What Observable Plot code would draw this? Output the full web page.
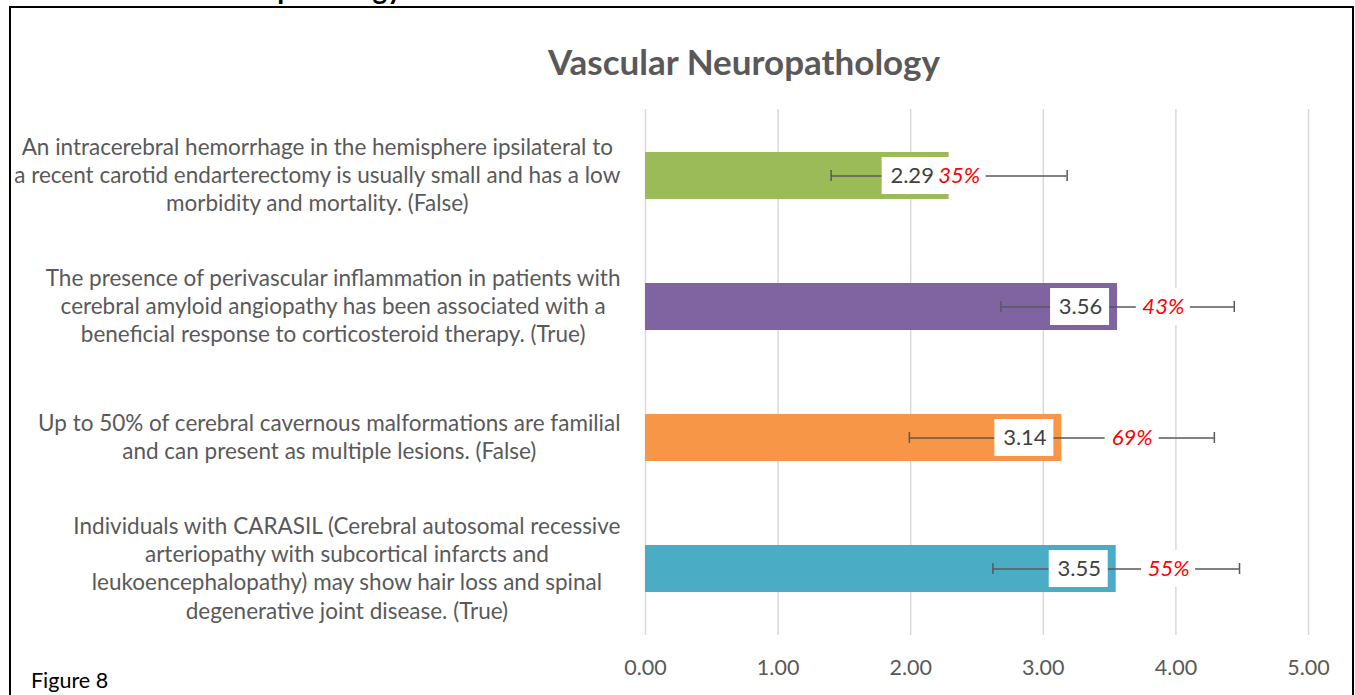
<!DOCTYPE html>
<html>
<head>
<meta charset="utf-8">
<script src="https://cdn.jsdelivr.net/npm/d3@7"></script>
<script src="https://cdn.jsdelivr.net/npm/@observablehq/plot@0.6"></script>
<style>
  body { margin: 0; background: #fff; }
  #wrap { position: relative; width: 1355px; height: 695px; overflow: hidden; font-family: Lato, "Open Sans", sans-serif; }
  #clipped { position: absolute; right: 953px; top: -26px; font: bold 28px/28px Lato, sans-serif; color: #000; white-space: nowrap; }
  #frame { position: absolute; left: 9px; top: 6px; width: 1345px; height: 760px; border: 2px solid #000; box-sizing: border-box; }
  #title { position: absolute; left: 744px; top: 44px; transform: translateX(-50%); font: bold 35px/35px Lato, sans-serif; color: #595959; white-space: nowrap; }
  #chart { position: absolute; left: 0; top: 0; }
  #fig { position: absolute; left: 31px; top: 670px; font: 21.5px/21.5px Lato, sans-serif; color: #000; white-space: nowrap; }
</style>
</head>
<body>
<div id="wrap">
  <div id="clipped">Vascular Neuropathology</div>
  <div id="frame"></div>
  <div id="chart"></div>
  <div id="title">Vascular Neuropathology</div>
  <div id="fig">Figure 8</div>
</div>
<script>
const categories = [
  "An intracerebral hemorrhage in the hemisphere ipsilateral to\na recent carotid endarterectomy is usually small and has a low\nmorbidity and mortality. (False)",
  "The presence of perivascular inflammation in patients with\ncerebral amyloid angiopathy has been associated with a\nbeneficial response to corticosteroid therapy. (True)",
  "Up to 50% of cerebral cavernous malformations are familial\nand can present as multiple lesions. (False)",
  "Individuals with CARASIL (Cerebral autosomal recessive\narteriopathy with subcortical infarcts and\nleukoencephalopathy) may show hair loss and spinal\ndegenerative joint disease. (True)"
];
const means = [2.29, 3.56, 3.14, 3.55];
const sds = [0.89, 0.88, 1.15, 0.93];
const percents = ["35%", "43%", "69%", "55%"];
const percentLabelAt = [2.365, 3.905, 3.67, 3.945];
const colors = ["#9BBB59", "#8064A2", "#F79646", "#4BACC6"];
const xTicks = [0, 1, 2, 3, 4, 5];

const rows = categories.map((cat, i) => ({
  cat, mean: means[i], sd: sds[i], pct: percents[i], pctAt: percentLabelAt[i], color: colors[i]
}));

const chart = Plot.plot({
  width: 1355,
  height: 695,
  marginLeft: 645,
  marginRight: 47,
  marginTop: 109,
  marginBottom: 60,
  style: { fontFamily: "Lato, sans-serif", fontSize: "21.5px", color: "#595959", background: "transparent", overflow: "visible" },
  x: { domain: [0, 5], ticks: xTicks, tickFormat: d => d.toFixed(2), tickSize: 0, tickPadding: 24, label: null },
  y: { domain: categories, padding: 0, axis: null },
  marks: [
    Plot.ruleX(xTicks, { stroke: "#D9D9D9", strokeWidth: 1.5 }),
    Plot.barX(rows, { x: "mean", y: "cat", fill: "color", insetTop: 42, insetBottom: 42 }),
    Plot.ruleY(rows, { y: "cat", x1: d => d.mean - d.sd, x2: d => d.mean + d.sd, stroke: "#595959", strokeWidth: 1.5 }),
    Plot.tickX(rows, { x: d => d.mean - d.sd, y: "cat", stroke: "#595959", strokeWidth: 1.5, insetTop: 60, insetBottom: 60 }),
    Plot.tickX(rows, { x: d => d.mean + d.sd, y: "cat", stroke: "#595959", strokeWidth: 1.5, insetTop: 60, insetBottom: 60 }),
    Plot.barX(rows, { x1: "mean", x2: "mean", y: "cat", fill: "white", insetLeft: -67, insetRight: 8, insetTop: 47, insetBottom: 47 }),
    Plot.barX(rows, { x1: "pctAt", x2: "pctAt", y: "cat", fill: "white", insetLeft: -27, insetRight: -27, insetTop: 47, insetBottom: 47 }),
    Plot.text(rows, { x: "mean", y: "cat", text: d => d.mean.toFixed(2), dx: -37, fill: "#404040", fontSize: 22 }),
    Plot.text(rows, { x: "pctAt", y: "cat", text: "pct", fill: "#FF0000", fontStyle: "italic", fontSize: 22 }),
    Plot.text(rows, { x: 0, y: "cat", text: "cat", textAnchor: "end", dx: -25, dy: -2, lineHeight: 1.26, fill: "#595959", fontSize: 22.5 })
  ]
});
document.getElementById("chart").appendChild(chart);

// center each multi-line category label within its own block, block right-aligned
const flat = categories.map(c => c.replace(/\n/g, ""));
chart.querySelectorAll("text").forEach(t => {
  if (!flat.includes(t.textContent)) return;
  const w = t.getBBox().width;
  t.setAttribute("text-anchor", "middle");
  const tr = t.getAttribute("transform") || "";
  t.setAttribute("transform", tr + ` translate(${-w / 2},0)`);
});
</script>
</body>
</html>
